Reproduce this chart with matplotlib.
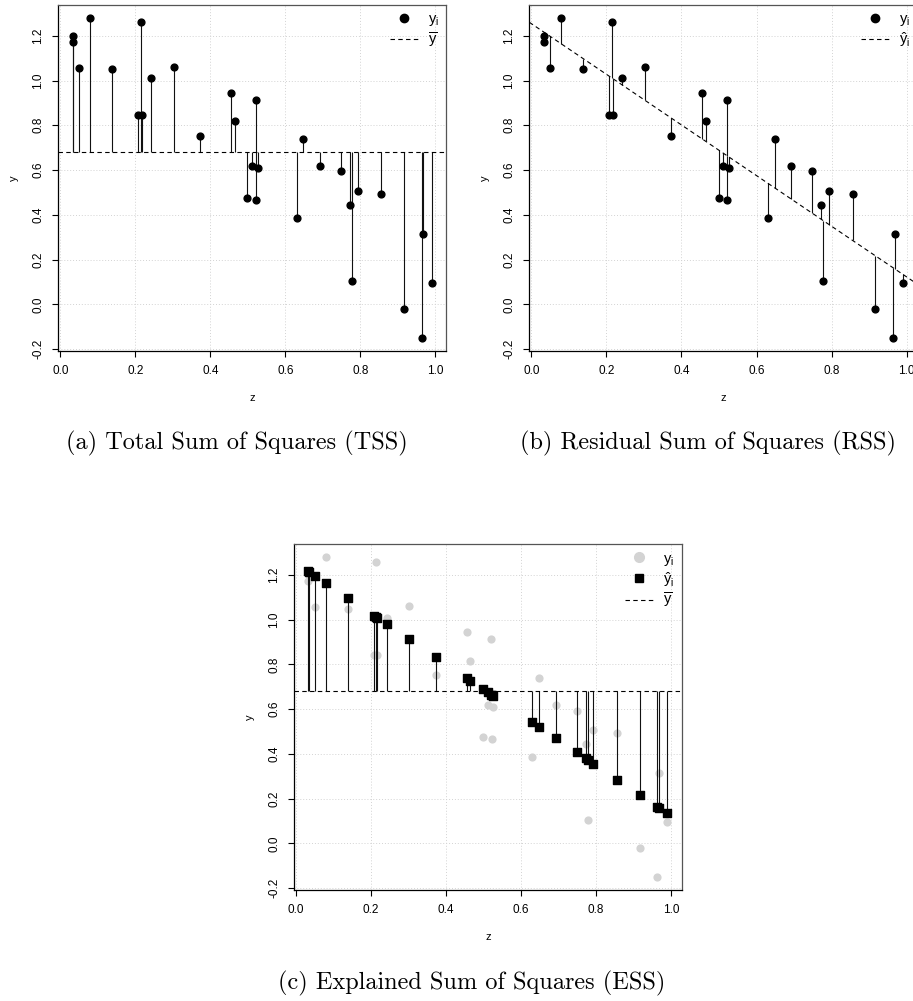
import numpy as np
import matplotlib
matplotlib.use("Agg")
import matplotlib.pyplot as plt
from matplotlib.lines import Line2D
from matplotlib.ticker import FixedLocator, FormatStrFormatter

plt.rcParams['font.family'] = ['Liberation Sans', 'DejaVu Sans']
plt.rcParams['mathtext.fontset'] = 'custom'
plt.rcParams['mathtext.rm'] = 'Liberation Sans'
plt.rcParams['mathtext.it'] = 'Liberation Sans'

# observations (z_i, y_i)
z = np.array([0.0347, 0.0330, 0.0499, 0.0800, 0.1387, 0.2080, 0.2170, 0.2140,
              0.2420, 0.3020, 0.3730, 0.4560, 0.4650, 0.4990, 0.5120, 0.5260,
              0.5210, 0.5220, 0.6300, 0.6480, 0.6920, 0.7490, 0.7720, 0.7780,
              0.7930, 0.8560, 0.9160, 0.9680, 0.9637, 0.9900])
y = np.array([1.199, 1.172, 1.058, 1.280, 1.050, 0.844, 0.844, 1.260,
              1.009, 1.061, 0.751, 0.943, 0.817, 0.475, 0.617, 0.608,
              0.912, 0.466, 0.385, 0.739, 0.619, 0.594, 0.443, 0.103,
              0.506, 0.492, -0.022, 0.314, -0.151, 0.094])

captions = ["(a) Total Sum of Squares (TSS)",
            "(b) Residual Sum of Squares (RSS)",
            "(c) Explained Sum of Squares (ESS)"]

x_ticks = [0.0, 0.2, 0.4, 0.6, 0.8, 1.0]
y_ticks = [-0.2, 0.0, 0.2, 0.4, 0.6, 0.8, 1.0, 1.2]

ybar = y.mean()
slope, intercept = np.polyfit(z, y, 1)
yhat = intercept + slope * z

W, H = 913, 1001
fig = plt.figure(figsize=(W / 100, H / 100), dpi=100)


def px_axes(left, top, width, height):
    return fig.add_axes([left / W, 1 - (top + height) / H, width / W, height / H])


def r_limits(v):
    # R style 4% padding on each side
    lo, hi = v.min(), v.max()
    d = 0.04 * (hi - lo)
    return lo - d, hi + d


def style_axes(ax):
    ax.set_xlim(*r_limits(z))
    ax.set_ylim(*r_limits(y))
    ax.xaxis.set_major_locator(FixedLocator(x_ticks))
    ax.yaxis.set_major_locator(FixedLocator(y_ticks))
    ax.xaxis.set_major_formatter(FormatStrFormatter('%.1f'))
    ax.yaxis.set_major_formatter(FormatStrFormatter('%.1f'))
    ax.tick_params(direction='out', length=4, width=0.8, labelsize=8.5, pad=6,
                   colors='black')
    for lab in ax.get_yticklabels():
        lab.set_rotation(90)
        lab.set_va('center')
    ax.grid(True, color='#d3d3d3', linestyle=(0, (1, 2)), linewidth=0.7)
    ax.set_axisbelow(True)
    for side in ['left', 'bottom']:
        ax.spines[side].set_color('black')
        ax.spines[side].set_linewidth(0.9)
    for side in ['top', 'right']:
        ax.spines[side].set_color('#555555')
        ax.spines[side].set_linewidth(0.9)
    ax.set_xlabel('z', fontsize=8)
    ax.set_ylabel('y', fontsize=8)
    ax.xaxis.set_label_coords(0.5, -42 / 346)
    ax.yaxis.set_label_coords(-39 / 388, 0.5)


def add_legend(ax, handles, labels):
    ax.legend(handles, labels, loc='upper right', frameon=False, fontsize=10.5,
              handlelength=1.9, handletextpad=0.7, labelspacing=0.15,
              borderaxespad=0.2, borderpad=0.3)


dash = (0, (4, 3))

# (a) TSS
ax1 = px_axes(58.3, 5, 387.7, 346)
style_axes(ax1)
ax1.vlines(z, ybar, y, colors='#111111', lw=0.8)
ax1.axhline(ybar, color='black', lw=0.8, linestyle=dash)
ax1.scatter(z, y, s=24, color='black', zorder=3)
add_legend(ax1,
           [Line2D([], [], marker='o', ls='none', color='black', ms=6),
            Line2D([], [], color='black', lw=0.8, linestyle=dash)],
           [r'$y_\mathrm{i}$', r'$\overline{y}$'])

# (b) RSS
ax2 = px_axes(529.3, 5, 388, 346)
style_axes(ax2)
ax2.vlines(z, yhat, y, colors='#111111', lw=0.8)
xl = np.array(ax2.get_xlim())
ax2.plot(xl, intercept + slope * xl, color='black', lw=0.8, linestyle=dash)
ax2.set_xlim(*xl)
ax2.scatter(z, y, s=24, color='black', zorder=3)
add_legend(ax2,
           [Line2D([], [], marker='o', ls='none', color='black', ms=6),
            Line2D([], [], color='black', lw=0.8, linestyle=dash)],
           [r'$y_\mathrm{i}$', r'$\hat{y}_\mathrm{i}$'])

# (c) ESS
ax3 = px_axes(294, 544.3, 387.7, 345.7)
style_axes(ax3)
ax3.scatter(z, y, s=24, color='#d3d3d3', zorder=2)
ax3.vlines(z, ybar, yhat, colors='#111111', lw=0.8, zorder=3)
ax3.axhline(ybar, color='black', lw=0.8, linestyle=dash, zorder=3)
ax3.scatter(z, yhat, s=28, marker='s', color='black', zorder=4)
add_legend(ax3,
           [Line2D([], [], marker='o', ls='none', color='#d3d3d3', ms=7),
            Line2D([], [], marker='s', ls='none', color='black', ms=6),
            Line2D([], [], color='black', lw=0.8, linestyle=dash)],
           [r'$y_\mathrm{i}$', r'$\hat{y}_\mathrm{i}$', r'$\overline{y}$'])

fig.text(236.7 / W, 1 - 443 / H, captions[0], family='cmr10', fontsize=17.5,
         ha='center', va='center')
fig.text(707.5 / W, 1 - 443 / H, captions[1], family='cmr10', fontsize=17.5,
         ha='center', va='center')
fig.text(471.7 / W, 1 - 983.3 / H, captions[2], family='cmr10', fontsize=17.5,
         ha='center', va='center')

fig.savefig('out.png', dpi=100)
